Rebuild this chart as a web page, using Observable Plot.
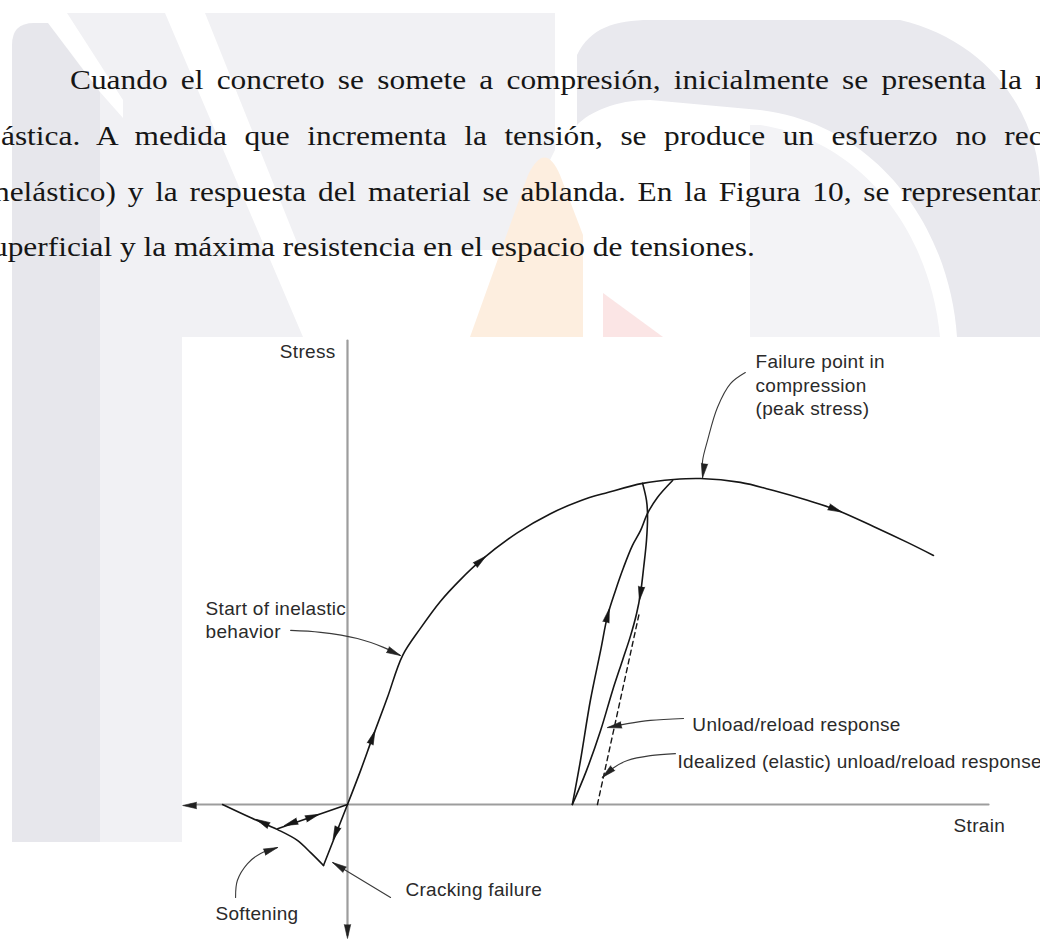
<!DOCTYPE html>
<html lang="es">
<head>
<meta charset="utf-8">
<title>Respuesta uniaxial del concreto</title>
<script src="https://cdn.jsdelivr.net/npm/d3@7"></script>
<script src="https://cdn.jsdelivr.net/npm/@observablehq/plot@0.6"></script>
<style>
  html, body { margin: 0; padding: 0; width: 1040px; height: 941px; overflow: hidden; background: #fff; }
  #watermark { position: absolute; left: 0; top: 0; }
  .para {
    position: absolute;
    font-family: "Liberation Serif", "Times New Roman", serif;
    font-size: 28px;
    line-height: 28px;
    color: #161616;
    transform: scaleX(1.12);
    transform-origin: 0 0;
  }
  .just { text-align: justify; text-align-last: justify; }
  .plain { white-space: nowrap; }
  #figure { position: absolute; left: 182px; top: 337px; }
</style>
</head>
<body>
<svg id="watermark" width="1040" height="941">
  <!-- faint institutional logo behind the page -->
  <path d="M12,45 Q12,23 34,23 L48,23 L100,92 L100,842 L12,842 Z" fill="#e7e7ec"/>
  <path d="M67,13 L165,13 L303,337 L182,337 L182,842 L100,842 L100,92 L123,118 L123,100 Z" fill="#f1f1f4"/>
  <path d="M205,13 L555,13 L555,150 L505,250 L300,250 Z" fill="#f1f1f4"/>
  <path d="M577,55 C590,28 615,20 650,20 L900,20 C985,40 1040,110 1040,190 L1040,337 L957,337 C950,230 880,125 760,110 L650,100 C615,100 590,112 577,125 Z" fill="#e9e9ee"/>
  <path d="M750,125 L760,125 C860,140 930,230 940,337 L750,337 Z" fill="#f3f3f6"/>
  <path d="M470,337 L528,175 Q545,140 560,175 L583,235 L583,337 Z" fill="#fdeedf"/>
  <path d="M603,293 L663,337 L603,337 Z" fill="#fbe5e5"/>
</svg>

<div class="para just" style="left:70px; top:66px; width:871px;">Cuando el concreto se somete a compresión, inicialmente se presenta la r</div>
<div class="para just" style="left:1px; top:122px; width:930px;">ástica. A medida que incrementa la tensión, se produce un esfuerzo no rec</div>
<div class="para just" style="left:-6px; top:178px; width:939px;">nelástico) y la respuesta del material se ablanda. En la Figura 10, se representan</div>
<div class="para plain" style="left:-8px; top:233px;">uperficial y la máxima resistencia en el espacio de tensiones.</div>

<div id="figure"></div>

<script>
// Strain and stress are normalised by the peak point: peak strain = 1, peak stress = 1.
// Each point is [strain, stress].

// Loading branch in compression, through the peak and into post-peak softening
const envelope = [
  [0, 0], [0.037, 0.104], [0.071, 0.206], [0.113, 0.328], [0.156, 0.457],
  [0.207, 0.541], [0.263, 0.623], [0.320, 0.690], [0.377, 0.748], [0.482, 0.834],
  [0.575, 0.892], [0.660, 0.932], [0.737, 0.957], [0.836, 0.985], [0.924, 0.997],
  [1.000, 1.000], [1.113, 0.988], [1.207, 0.963], [1.303, 0.933], [1.382, 0.905],
  [1.490, 0.853], [1.586, 0.804], [1.660, 0.764]
];

// Unloading from the envelope down to zero stress
const unloadPath = [
  [0.836, 0.985], [0.847, 0.933], [0.850, 0.887], [0.847, 0.810], [0.839, 0.727],
  [0.830, 0.647], [0.819, 0.586], [0.802, 0.518], [0.779, 0.442], [0.751, 0.350],
  [0.717, 0.227], [0.677, 0.104], [0.637, 0]
];

// Reloading from zero stress back onto the envelope
const reloadPath = [
  [0.637, 0], [0.660, 0.135], [0.688, 0.319], [0.717, 0.472], [0.737, 0.580],
  [0.759, 0.656], [0.782, 0.727], [0.807, 0.794], [0.830, 0.840], [0.850, 0.893],
  [0.878, 0.942], [0.921, 0.994]
];

// Idealised elastic unload/reload (dashed)
const elasticUnload = [[0.708, 0], [0.827, 0.589]];

// Tension side: linear branch to cracking, softening, and unload/reload to the origin
const crackingPath = [[0, 0], [-0.068, -0.187]];
const softeningPath = [[-0.068, -0.187], [-0.105, -0.147], [-0.142, -0.110], [-0.198, -0.077], [-0.275, -0.040], [-0.354, 0]];
const tensionReload = [[0, 0], [-0.198, -0.074]];

// Axes
const strainAxis = [[-0.445, 0], [1.816, 0]];
const stressAxis = [[0, 1.423], [0, -0.40]];

// Leader lines from the callouts to the curves
const leaderPeak = [[1.127, 1.325], [1.085, 1.291], [1.048, 1.218], [1.020, 1.117], [1.006, 1.055], [1.006, 1.003]];
const leaderInelastic = [[-0.161, 0.534], [-0.076, 0.528], [0.028, 0.509], [0.102, 0.482], [0.150, 0.457]];
const leaderUnload = [[0.952, 0.264], [0.858, 0.258], [0.793, 0.248], [0.737, 0.236]];
const leaderElastic = [[0.929, 0.156], [0.858, 0.150], [0.793, 0.135], [0.754, 0.113], [0.722, 0.083]];
const leaderCracking = [[0.122, -0.285], [-0.042, -0.178]];
const leaderSoftening = [[-0.317, -0.285], [-0.312, -0.233], [-0.283, -0.181], [-0.246, -0.150], [-0.198, -0.132]];

// Direction arrows along the paths: [strain, stress, heading in degrees clockwise from up]
const pathArrows = [
  [0.071, 0.206, 20], [0.377, 0.748, 50], [1.382, 0.905, 112],
  [0.737, 0.580, 14], [0.830, 0.647, 189],
  [-0.034, -0.089, 201], [-0.241, -0.055, 296], [-0.161, -0.058, 251], [-0.099, -0.037, 71]
];

// Arrowheads at the ends of leaders and axes: [strain, stress, heading]
const tipArrows = [
  [1.006, 1.003, 188], [0.150, 0.457, 115], [0.737, 0.236, 259], [0.722, 0.083, 228],
  [-0.042, -0.178, 301], [-0.198, -0.132, 71],
  [0, -0.411, 180], [-0.467, -0.003, 270]
];

// Callout texts: [strain, stress, text]
const callouts = [
  [1.717, -0.061, "Strain"],
  [1.156, 1.290, "Failure point in\ncompression\n(peak stress)"],
  [-0.402, 0.569, "Start of inelastic\nbehavior"],
  [0.977, 0.248, "Unload/reload response"],
  [0.935, 0.135, "Idealized (elastic) unload/reload response"],
  [0.164, -0.258, "Cracking failure"],
  [-0.374, -0.331, "Softening"]
];
const stressLabel = [[-0.034, 1.393, "Stress"]];

const X = d => d[0], Y = d => d[1];
const curveInk = {x: X, y: Y, stroke: "#161616", strokeWidth: 1.6, curve: "catmull-rom"};
const leaderInk = {x: X, y: Y, stroke: "#3a3a3a", strokeWidth: 1.1, curve: "catmull-rom"};
const axisInk = {x: X, y: Y, stroke: "#9d9d9d", strokeWidth: 2.2};
const textInk = {x: X, y: Y, text: d => d[2], fill: "#2a2a2a", fontSize: 19, lineHeight: 1.24, lineAnchor: "middle"};

const chart = Plot.plot({
  width: 858,
  height: 604,
  margin: 0,
  x: {domain: [-0.4674, 1.9632], axis: null},
  y: {domain: [-0.4202, 1.4325], axis: null},
  style: {
    background: "#ffffff",
    fontFamily: "'Liberation Sans', Arial, sans-serif",
    letterSpacing: "0.3px",
    overflow: "visible"
  },
  marks: [
    Plot.line(strainAxis, axisInk),
    Plot.line(stressAxis, axisInk),
    Plot.line(elasticUnload, {x: X, y: Y, stroke: "#161616", strokeWidth: 1.4, strokeDasharray: "5,4"}),
    Plot.line(envelope, curveInk),
    Plot.line(unloadPath, curveInk),
    Plot.line(reloadPath, curveInk),
    Plot.line(crackingPath, {...curveInk, curve: "linear"}),
    Plot.line(softeningPath, curveInk),
    Plot.line(tensionReload, {...curveInk, curve: "linear"}),
    Plot.line(leaderPeak, leaderInk),
    Plot.line(leaderInelastic, leaderInk),
    Plot.line(leaderUnload, leaderInk),
    Plot.line(leaderElastic, leaderInk),
    Plot.line(leaderCracking, leaderInk),
    Plot.line(leaderSoftening, leaderInk),
    Plot.vector(pathArrows, {x: X, y: Y, rotate: d => d[2], length: 14, r: 3.2, shape: "spike", anchor: "middle", fill: "#161616", stroke: "#161616", strokeWidth: 0.6}),
    Plot.vector(tipArrows, {x: X, y: Y, rotate: d => d[2], length: 14, r: 3.2, shape: "spike", anchor: "end", fill: "#222", stroke: "#222", strokeWidth: 0.6}),
    Plot.text(callouts, {...textInk, textAnchor: "start"}),
    Plot.text(stressLabel, {...textInk, textAnchor: "end"})
  ]
});
document.getElementById("figure").appendChild(chart);
</script>
</body>
</html>
